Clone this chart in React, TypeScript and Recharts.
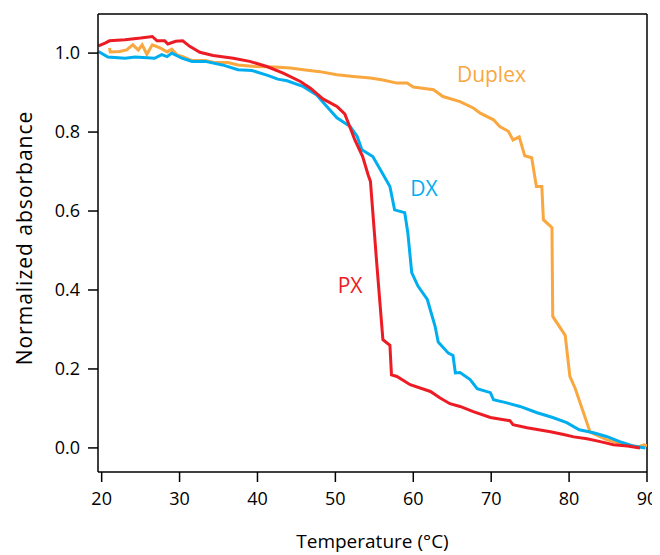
import { LineChart, Line, XAxis, YAxis, ReferenceDot, ReferenceLine } from "recharts"

const pxTemp = [19.6, 20.5, 21.0, 23.0, 25.0, 26.5, 27.1, 28.1, 28.5, 29.5, 30.4, 31.3, 32.6, 34.3, 36.9, 39.0, 41.2, 43.3, 45.5, 46.8, 48.4, 50.2, 51.2, 51.6, 52.5, 53.5, 54.2, 54.5, 55.3, 56.1, 57.0, 57.2, 57.9, 59.6, 62.2, 63.4, 64.7, 66.0, 67.7, 69.9, 72.4, 72.8, 74.6, 77.6, 79.3, 80.6, 82.3, 84.0, 85.7, 87.5, 89.1]
const pxAbs = [1.018, 1.026, 1.031, 1.034, 1.038, 1.042, 1.031, 1.031, 1.023, 1.03, 1.031, 1.017, 1.002, 0.994, 0.987, 0.979, 0.966, 0.949, 0.928, 0.911, 0.884, 0.865, 0.846, 0.826, 0.78, 0.738, 0.692, 0.675, 0.47, 0.274, 0.26, 0.185, 0.181, 0.16, 0.143, 0.127, 0.112, 0.105, 0.092, 0.077, 0.069, 0.059, 0.051, 0.041, 0.034, 0.028, 0.023, 0.016, 0.008, 0.005, 0.0]

const dxTemp = [19.6, 20.8, 23.0, 24.3, 26.8, 27.7, 28.4, 29.0, 30.3, 31.6, 33.3, 35.5, 37.5, 39.3, 41.4, 42.6, 43.8, 45.9, 47.6, 48.9, 50.2, 51.9, 52.8, 53.4, 54.8, 56.0, 57.0, 57.6, 58.9, 59.3, 59.8, 60.6, 61.8, 62.8, 63.2, 64.5, 65.1, 65.4, 66.0, 67.3, 68.2, 69.9, 70.3, 72.0, 73.7, 75.9, 77.9, 79.7, 81.3, 83.0, 84.8, 86.5, 88.2, 89.8]
const dxAbs = [1.004, 0.99, 0.987, 0.99, 0.987, 0.996, 0.991, 1.0, 0.987, 0.979, 0.979, 0.97, 0.958, 0.956, 0.943, 0.934, 0.93, 0.915, 0.894, 0.865, 0.836, 0.814, 0.789, 0.755, 0.738, 0.697, 0.662, 0.603, 0.596, 0.545, 0.444, 0.41, 0.376, 0.308, 0.268, 0.24, 0.234, 0.19, 0.191, 0.173, 0.15, 0.14, 0.122, 0.114, 0.105, 0.089, 0.077, 0.064, 0.046, 0.039, 0.029, 0.016, 0.005, 0.0]

const duplexTemp = [21.0, 21.1, 22.3, 23.2, 24.0, 24.7, 25.2, 25.8, 26.5, 27.5, 28.4, 29.0, 29.7, 30.4, 31.6, 33.3, 34.3, 36.2, 37.5, 39.7, 42.2, 44.2, 45.9, 48.0, 50.2, 52.3, 54.5, 56.1, 57.9, 59.2, 60.0, 62.6, 63.8, 66.0, 67.7, 68.6, 70.3, 71.1, 72.2, 72.8, 73.6, 74.3, 75.2, 75.8, 76.5, 76.7, 77.8, 77.9, 79.5, 80.1, 80.8, 82.7, 84.8, 87.3, 89.0, 89.6, 90.0]
const duplexAbs = [1.013, 1.003, 1.004, 1.008, 1.021, 1.008, 1.021, 0.997, 1.021, 1.013, 1.003, 1.01, 0.995, 0.991, 0.981, 0.981, 0.977, 0.976, 0.97, 0.966, 0.965, 0.962, 0.958, 0.953, 0.945, 0.941, 0.937, 0.932, 0.924, 0.924, 0.914, 0.907, 0.89, 0.877, 0.861, 0.848, 0.831, 0.814, 0.802, 0.78, 0.788, 0.74, 0.735, 0.662, 0.662, 0.578, 0.558, 0.333, 0.285, 0.181, 0.15, 0.04, 0.021, 0.008, 0.003, 0.008, 0.005]

const xTicks = [20, 30, 40, 50, 60, 70, 80, 90]
const yTicks = [0, 0.2, 0.4, 0.6, 0.8, 1.0]

const toPoints = (ts: number[], as: number[]) => ts.map((t, i) => ({ t, a: as[i] }))

const pxData = toPoints(pxTemp, pxAbs)
const dxData = toPoints(dxTemp, dxAbs)
const duplexData = toPoints(duplexTemp, duplexAbs)

const X_MIN = 19.53
const X_MAX = 90
const Y_MIN = -0.061
const Y_MAX = 1.099

const RED = "#ED1C24"
const BLUE = "#00AEEF"
const ORANGE = "#F9A73E"
const FONT = "'Open Sans', sans-serif"

const tagLabel = (text: string, color: string) => (props: any) => {
  const vb = props.viewBox || {}
  return (
    <text x={vb.x} y={vb.y} dominantBaseline="central" fill={color} fontSize={21} fontFamily={FONT}>
      {text}
    </text>
  )
}

export default function App() {
  return (
    <div style={{ width: 652, height: 547, fontFamily: FONT }}>
      <LineChart width={652} height={547} margin={{ top: 6, right: 13, bottom: 0, left: 0 }}>
        <XAxis
          xAxisId="main"
          dataKey="t"
          type="number"
          domain={[X_MIN, X_MAX]}
          ticks={xTicks}
          allowDataOverflow
          height={83}
          tickSize={10}
          tickMargin={10}
          axisLine={{ stroke: "#000", strokeWidth: 1.5 }}
          tickLine={{ stroke: "#000", strokeWidth: 1.5 }}
          tick={{ fill: "#000", fontSize: 18, fontFamily: FONT }}
          label={{ value: "Temperature (°C)", position: "insideBottom", offset: 7, fill: "#000", fontSize: 19, fontFamily: FONT }}
        />
        <YAxis
          yAxisId="main"
          type="number"
          domain={[Y_MIN, Y_MAX]}
          ticks={yTicks}
          allowDataOverflow
          width={90}
          tickSize={10}
          tickMargin={8}
          tickFormatter={(v: number) => v.toFixed(1)}
          axisLine={{ stroke: "#000", strokeWidth: 1.5 }}
          tickLine={{ stroke: "#000", strokeWidth: 1.5 }}
          tick={{ fill: "#000", fontSize: 18, fontFamily: FONT }}
          label={{ value: "Normalized absorbance", angle: -90, position: "insideLeft", offset: 17, dy: -5, style: { textAnchor: "middle", letterSpacing: 1 }, fill: "#000", fontSize: 21, fontFamily: FONT }}
        />
        {/* top and right frame */}
        <ReferenceLine xAxisId="main" yAxisId="main" y={Y_MAX} stroke="#000" strokeWidth={1.5} />
        <ReferenceLine xAxisId="main" yAxisId="main" x={X_MAX} stroke="#000" strokeWidth={1.5} />
        <Line xAxisId="main" yAxisId="main" data={duplexData} dataKey="a" type="linear" stroke={ORANGE} strokeWidth={3} dot={false} isAnimationActive={false} />
        <Line xAxisId="main" yAxisId="main" data={dxData} dataKey="a" type="linear" stroke={BLUE} strokeWidth={3} dot={false} isAnimationActive={false} />
        <Line xAxisId="main" yAxisId="main" data={pxData} dataKey="a" type="linear" stroke={RED} strokeWidth={3} dot={false} isAnimationActive={false} />
        <ReferenceDot xAxisId="main" yAxisId="main" x={65.6} y={0.946} r={0} stroke="none" label={tagLabel("Duplex", ORANGE)} />
        <ReferenceDot xAxisId="main" yAxisId="main" x={59.6} y={0.659} r={0} stroke="none" label={tagLabel("DX", BLUE)} />
        <ReferenceDot xAxisId="main" yAxisId="main" x={50.3} y={0.413} r={0} stroke="none" label={tagLabel("PX", RED)} />
      </LineChart>
    </div>
  )
}
